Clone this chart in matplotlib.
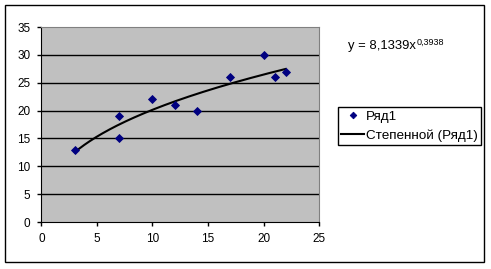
import numpy as np
import matplotlib
matplotlib.use("Agg")
import matplotlib.pyplot as plt
from matplotlib.patches import Rectangle

plt.rcParams['font.family'] = ['Liberation Sans', 'DejaVu Sans']

# data points (Ряд1)
x = [3, 7, 7, 10, 12, 14, 17, 20, 21, 22]
y = [13, 19, 15, 22, 21, 20, 26, 30, 26, 27]

# power trendline coefficients shown on the chart
a = 8.1339
b = 0.3938

xticks = [0, 5, 10, 15, 20, 25]
yticks = [0, 5, 10, 15, 20, 25, 30, 35]

fig = plt.figure(figsize=(4.91, 2.69), dpi=100)
ax = fig.add_axes([0.0845, 0.1747, 0.5652, 0.7249])
ax.set_facecolor('#c0c0c0')

# excel-style gridlines
for t in yticks[1:-1]:
    ax.axhline(t, color='black', linewidth=1, zorder=1)

tx = np.linspace(min(x), max(x), 200)
ax.plot(tx, a * tx ** b, color='black', linewidth=1.5, zorder=2,
        label='Степенной (Ряд1)')
ax.plot(x, y, linestyle='none', marker='D', markersize=4.2,
        markeredgewidth=0.6, color='#000080', zorder=3, label='Ряд1')

ax.set_xlim(0, 25)
ax.set_ylim(0, 35)
ax.set_xticks(xticks)
ax.set_yticks(yticks)
ax.tick_params(labelsize=8.5, length=3, width=1, color='black', pad=5)

for side in ['top', 'right']:
    ax.spines[side].set_color('#808080')
for side in ['left', 'bottom']:
    ax.spines[side].set_color('black')

# trendline equation, exponent as a small raised text
eq = fig.text(0.7088, 0.8178, 'y = 8,1339x', fontsize=9.4, va='baseline')
ax.annotate('0,3938', xy=(1, 1), xycoords=eq, xytext=(0.3, 1.5),
            textcoords='offset points', fontsize=6.5,
            va='top', ha='left', annotation_clip=False)

h, l = ax.get_legend_handles_labels()
leg = fig.legend(h[::-1], l[::-1], loc='upper left',
                 bbox_to_anchor=(0.6884, 0.6022), fontsize=9.7,
                 frameon=True, fancybox=False, edgecolor='black',
                 framealpha=1, borderpad=0.25, handlelength=1.7,
                 handletextpad=0.1, labelspacing=0.5, borderaxespad=0,
                 markerscale=0.8)
leg.get_frame().set_linewidth(1)

# chart area border
fig.patches.append(Rectangle((0.0102, 0.026), 0.976, 0.955, fill=False,
                             edgecolor='black', linewidth=1,
                             transform=fig.transFigure, figure=fig))

fig.savefig('out.png', dpi=100)
